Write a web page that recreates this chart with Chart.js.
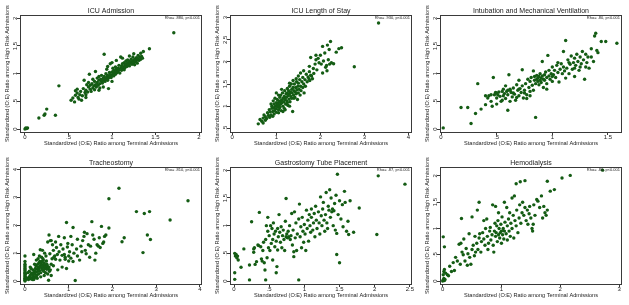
<!DOCTYPE html>
<html>
<head>
<meta charset="utf-8">
<script src="https://cdn.jsdelivr.net/npm/chart.js@4"></script>
<style>
  body { margin: 0; background: #fff; }
  #wrap { position: relative; width: 629px; height: 305px; overflow: hidden; }
  canvas { position: absolute; }
</style>
</head>
<body>
<div id="wrap"></div>
<script>
// ---- data (x = terminal O:E, y = high risk O:E) ----
const icuAdmission = [[0,0],[0.02,0.01],[0.03,0.02],[0.01,0.02],[0.16,0.2],[0.22,0.25],[0.23,0.27],[0.25,0.36],[0.35,0.25],[0.39,0.78],
  [0.53,0.52],[0.55,0.56],[0.57,0.49],[0.58,0.61],[0.58,0.69],[0.6,0.72],[0.6,0.65],[0.61,0.57],[0.62,0.54],[0.63,0.62],[0.64,0.68],[0.65,0.52],
  [0.66,0.6],[0.67,0.73],[0.68,0.88],[0.69,0.66],[0.7,0.7],[0.7,0.62],[0.71,0.8],[0.72,0.67],[0.73,0.76],[0.73,0.84],[0.74,0.99],[0.75,0.72],
  [0.75,0.79],[0.76,0.68],[0.77,0.82],[0.78,0.74],[0.78,0.9],[0.79,0.78],[0.8,0.71],[0.8,0.86],[0.81,1.04],[0.81,0.8],[0.82,0.76],[0.83,0.84],
  [0.83,0.92],[0.84,0.79],[0.85,0.88],[0.85,0.95],[0.86,0.82],[0.86,0.74],[0.87,0.9],[0.88,0.86],[0.88,0.97],[0.89,0.83],[0.9,0.92],[0.9,0.88],
  [0.91,1.35],[0.91,0.95],[0.92,0.86],[0.92,0.91],[0.93,1.0],[0.93,0.9],[0.94,0.94],[0.94,1.08],[0.95,0.88],[0.95,0.97],[0.96,0.73],[0.96,0.92],
  [0.97,1.02],[0.97,0.95],[0.98,1.18],[0.98,0.98],[0.99,0.93],[1.0,1.03],[1.0,0.97],[1.01,1.1],[1.01,1.0],[1.02,0.96],[1.02,1.06],[1.03,1.02],
  [1.04,1.12],[1.04,0.99],[1.05,1.05],[1.05,1.08],[1.06,1.02],[1.07,1.1],[1.07,1.04],[1.08,1.15],[1.08,1.07],[1.09,1.01],[1.1,1.1],[1.1,1.3],
  [1.11,1.06],[1.11,1.14],[1.12,1.18],[1.12,1.09],[1.13,1.12],[1.14,1.2],[1.14,1.07],[1.15,1.15],[1.15,1.11],[1.16,1.23],[1.16,1.17],[1.17,1.13],
  [1.18,1.2],[1.18,1.25],[1.19,1.16],[1.2,1.22],[1.2,1.14],[1.21,1.19],[1.22,1.26],[1.22,1.21],[1.23,1.17],[1.24,1.23],[1.24,1.3],[1.25,1.2],
  [1.26,1.26],[1.26,1.16],[1.27,1.22],[1.28,1.29],[1.28,1.24],[1.29,1.19],[1.3,1.27],[1.3,1.33],[1.31,1.24],[1.32,1.3],[1.33,1.26],[1.33,1.37],
  [1.34,1.31],[1.35,1.28],[1.36,1.4],[1.43,1.45],[1.71,1.74],[1.05,1.24],[1.0,1.2],[0.95,1.13],[1.12,1.28],[1.2,1.32],[1.25,1.36],[0.9,0.76],
  [1.0,0.86],[0.7,0.57],[0.85,0.7]];

const icuLengthOfStay = [[0.59,0.6],[0.63,0.7],[0.67,0.66],[0.7,0.73],[0.72,0.8],[0.75,0.76],[0.78,0.72],[0.8,0.85],[0.82,0.79],[0.84,0.92],
  [0.86,0.87],[0.88,0.8],[0.9,0.95],[0.9,1.0],[0.92,0.88],[0.93,1.12],[0.94,0.96],[0.95,1.05],[0.96,0.9],[0.97,1.18],[0.98,1.0],[0.99,0.94],
  [1.0,1.08],[1.0,0.86],[1.01,1.02],[1.02,1.15],[1.03,0.98],[1.04,1.07],[1.05,0.92],[1.06,1.12],[1.07,1.03],[1.08,1.2],[1.08,0.97],[1.09,1.1],
  [1.1,1.05],[1.1,1.25],[1.11,0.9],[1.12,1.14],[1.13,1.08],[1.14,1.3],[1.15,1.0],[1.16,1.18],[1.17,1.1],[1.18,1.22],[1.18,0.95],[1.19,1.35],
  [1.2,1.15],[1.21,1.05],[1.22,1.28],[1.23,1.2],[1.24,1.12],[1.25,1.4],[1.25,1.3],[1.26,1.02],[1.27,1.24],[1.28,1.35],[1.29,1.16],[1.3,1.45],
  [1.3,1.28],[1.31,1.1],[1.32,1.32],[1.33,1.22],[1.34,1.5],[1.35,1.38],[1.35,1.18],[1.36,1.3],[1.37,0.88],[1.38,1.42],[1.39,1.25],[1.4,1.35],
  [1.41,1.5],[1.42,1.2],[1.43,1.32],[1.44,1.42],[1.45,1.28],[1.46,1.55],[1.47,1.37],[1.48,1.15],[1.49,1.45],[1.5,1.3],[1.5,1.52],[1.52,1.38],
  [1.53,1.6],[1.54,1.25],[1.55,1.45],[1.56,1.35],[1.58,1.55],[1.6,1.42],[1.6,1.65],[1.62,1.5],[1.63,1.3],[1.65,1.6],[1.66,1.45],[1.68,1.72],
  [1.7,1.55],[1.72,1.66],[1.74,1.62],[1.75,1.78],[1.76,1.58],[1.78,1.7],[1.8,1.68],[1.82,1.62],[1.84,1.85],[1.85,1.74],[1.88,1.95],[1.9,2.05],
  [1.92,1.82],[1.95,2.08],[1.97,1.98],[2.0,2.15],[2.02,1.95],[2.05,2.35],[2.07,2.02],[2.1,2.2],[2.12,1.88],[2.14,1.92],[2.15,1.8],[2.16,2.38],
  [2.18,2.05],[2.2,2.28],[2.21,1.95],[2.23,2.46],[2.25,1.98],[2.3,1.96],[2.36,2.22],[2.42,2.3],[2.48,2.32],[2.77,1.89],[3.32,2.88],
  [0.7,0.62],[0.75,0.68],[0.85,0.75],[0.95,0.82],[1.05,0.85],[1.15,0.88],[1.2,0.92],[1.3,1.0],[1.0,1.3],[1.05,1.25],[1.12,1.38],[1.3,1.52],
  [1.38,1.58],[1.45,1.62],[1.55,1.75],[1.62,1.8],[1.75,1.9],[1.78,2.1],[1.9,2.15],[2.05,1.75],[1.5,1.68],[1.4,1.18],[1.25,1.08],[0.88,1.05],[0.92,0.77]];

const intubation = [[0.02,0.02],[0.18,0.39],[0.24,0.39],[0.27,0.1],[0.31,0.28],[0.33,0.82],[0.36,0.36],[0.4,0.44],[0.42,0.56],[0.43,0.6],
  [0.45,0.5],[0.46,0.41],[0.47,0.93],[0.48,0.62],[0.49,0.66],[0.5,0.45],[0.5,0.56],[0.51,0.62],[0.52,0.67],[0.53,0.59],[0.54,0.5],[0.55,0.68],
  [0.56,0.72],[0.56,0.6],[0.57,0.64],[0.58,0.55],[0.58,0.78],[0.59,0.68],[0.6,0.34],[0.6,0.62],[0.61,0.98],[0.62,0.72],[0.62,0.5],[0.63,0.66],
  [0.64,0.58],[0.65,0.74],[0.66,0.63],[0.67,0.52],[0.68,0.8],[0.69,0.7],[0.7,0.6],[0.7,0.88],[0.71,0.73],[0.72,0.66],[0.73,0.78],[0.73,1.07],
  [0.74,0.56],[0.75,0.7],[0.76,0.82],[0.77,0.62],[0.78,0.9],[0.79,0.75],[0.8,0.68],[0.8,0.86],[0.81,0.93],[0.82,0.79],[0.83,1.05],[0.83,0.7],
  [0.84,0.88],[0.84,0.95],[0.85,0.21],[0.85,0.82],[0.86,0.9],[0.86,0.97],[0.87,0.86],[0.87,0.92],[0.88,0.8],[0.88,0.95],[0.89,0.88],[0.89,1.0],
  [0.9,0.92],[0.9,0.84],[0.91,0.96],[0.91,1.22],[0.92,0.9],[0.92,0.75],[0.93,0.98],[0.93,0.88],[0.94,1.03],[0.95,0.93],[0.95,0.82],[0.96,1.33],
  [0.97,0.96],[0.97,1.06],[0.98,0.9],[0.99,1.0],[1.0,1.12],[1.0,0.86],[1.01,0.98],[1.02,1.06],[1.03,0.93],[1.04,1.15],[1.05,1.02],[1.06,0.85],
  [1.07,1.08],[1.08,1.18],[1.09,1.0],[1.1,1.12],[1.1,1.4],[1.11,1.05],[1.12,1.6],[1.12,0.92],[1.13,1.1],[1.14,1.25],[1.15,1.0],[1.16,1.17],
  [1.17,1.32],[1.18,1.08],[1.19,1.2],[1.2,1.28],[1.2,0.95],[1.21,1.15],[1.22,1.35],[1.23,1.22],[1.24,1.06],[1.25,1.3],[1.26,1.18],[1.27,1.4],
  [1.28,1.25],[1.29,0.9],[1.3,1.12],[1.31,1.2],[1.32,1.3],[1.33,1.1],[1.35,1.45],[1.37,1.22],[1.38,1.68],[1.39,1.73],[1.4,1.42],[1.41,1.38],
  [1.44,1.58],[1.48,1.58],[1.58,1.55],[0.55,0.52],[0.6,0.7],[0.65,0.65],[0.7,0.72],[0.75,0.65],[0.62,0.7],[0.68,0.57],[0.77,0.55],[0.8,0.6],
  [0.5,0.65],[0.45,0.62],[0.4,0.6],[0.95,0.72],[1.0,0.95],[1.05,1.2],[1.15,1.2],[1.2,1.1],[1.25,1.12],[1.3,1.35],[1.35,1.3]];

const tracheostomy = [[0,0],[0,0.03],[0,0.07],[0,0.1],[0,0.14],[0,0.18],[0,0.22],[0,0.27],[0,0.31],[0,0.36],[0,0.4],[0,0.45],[0,0.5],
  [0,0.55],[0,0.6],[0,0.7],[0,0.9],[0.01,0.05],[0.01,0.25],[0.02,0.12],[0.1,0.15],[0.12,0.2],[0.13,0.08],[0.15,0.28],[0.16,0.12],[0.17,0.05],
  [0.18,0.22],[0.18,0.4],[0.19,0.18],[0.2,0.3],[0.21,0.1],[0.22,0.35],[0.23,0.25],[0.24,0.45],[0.24,0.15],[0.25,0.55],[0.26,0.32],[0.27,0.2],
  [0.28,0.42],[0.29,0.6],[0.3,0.35],[0.3,0.5],[0.31,0.25],[0.32,0.65],[0.32,0.45],[0.33,0.38],[0.34,0.7],[0.35,0.55],[0.35,1.12],[0.36,0.3],
  [0.37,0.62],[0.38,0.48],[0.39,0.7],[0.4,0.4],[0.4,0.58],[0.41,0.8],[0.42,0.52],[0.43,0.35],[0.44,0.65],[0.45,0.45],[0.45,1.0],[0.46,0.58],
  [0.47,0.3],[0.48,0.5],[0.49,0.72],[0.5,0.42],[0.5,0.6],[0.51,0.55],[0.52,1.4],[0.53,0.45],[0.54,0.03],[0.55,0.5],[0.55,1.65],[0.56,0.35],
  [0.57,0.98],[0.58,1.45],[0.6,0.6],[0.6,0.2],[0.62,0.8],[0.63,1.3],[0.65,1.1],[0.66,0.85],[0.68,0.9],[0.7,0.78],[0.72,1.2],[0.74,0.95],
  [0.75,0.4],[0.77,1.6],[0.78,1.05],[0.8,0.75],[0.82,1.3],[0.85,0.92],[0.87,1.15],[0.9,0.95],[0.92,0.85],[0.95,2.1],[0.95,0.45],[0.97,1.22],
  [0.98,1.35],[1.0,0.72],[1.0,0.9],[1.02,1.05],[1.05,0.82],[1.08,1.3],[1.1,1.92],[1.12,1.0],[1.15,0.02],[1.18,1.15],[1.2,0.9],[1.25,0.75],
  [1.28,1.25],[1.3,1.05],[1.32,1.45],[1.35,1.6],[1.36,1.75],[1.38,1.1],[1.4,0.98],[1.45,1.3],[1.5,1.25],[1.53,2.13],[1.55,1.65],[1.58,1.5],
  [1.6,0.75],[1.62,1.0],[1.65,1.3],[1.68,1.25],[1.72,1.2],[1.75,1.96],[1.78,1.35],[1.82,1.6],[1.85,1.65],[1.92,1.9],[1.92,2.95],[2.15,3.33],
  [2.22,1.41],[2.27,1.55],[2.55,2.49],[2.7,1.02],[2.73,2.42],[2.8,1.65],[2.85,2.49],[2.87,1.49],[3.32,2.19],[3.73,2.88],
  [0.05,0.1],[0.08,0.05],[0.1,0.35],[0.14,0.45],[0.2,0.05],[0.22,0.6],[0.26,0.75],[0.28,0.1],[0.3,0.8],[0.33,0.9],[0.36,0.15],[0.38,0.85],
  [0.42,0.75],[0.44,0.2],[0.48,0.9],[0.52,0.25],[0.58,0.4],[0.12,0.5],[0.07,0.3],[0.2,0.95],[0.4,1.1],[0.65,0.55],[0.7,1.4],[0.6,1.45],
  [0.85,0.5],[0.9,1.55],[0.92,0.78],[1.05,1.6],[1.1,0.7],[1.2,1.5],[1.42,1.7],[1.48,0.85],[1.7,1.55],[1.8,1.4]];

const gastrostomy = [[0.01,0.03],[0.01,0.15],[0.01,0.5],[0.02,0.45],[0.03,0.48],[0.04,0.42],[0.05,0.45],[0.06,0.38],[0.1,0.25],[0.14,0.58],
  [0.22,0.02],[0.22,0.29],[0.25,1.07],[0.28,0.52],[0.28,0.58],[0.29,0.6],[0.3,0.3],[0.32,0.35],[0.34,0.65],[0.35,0.64],[0.36,1.24],[0.38,0.62],
  [0.39,0.4],[0.4,0.36],[0.41,0.55],[0.42,0.7],[0.43,0.33],[0.44,0.2],[0.45,0.02],[0.45,0.75],[0.46,1.0],[0.47,0.42],[0.48,0.9],[0.48,1.15],
  [0.49,0.6],[0.5,0.82],[0.51,0.55],[0.52,1.0],[0.53,0.68],[0.54,0.95],[0.55,0.75],[0.55,0.38],[0.56,1.05],[0.57,0.85],[0.58,0.62],[0.59,0.9],
  [0.6,0.15],[0.6,0.72],[0.61,0.26],[0.62,0.95],[0.62,0.56],[0.63,0.8],[0.64,1.2],[0.65,0.88],[0.66,0.7],[0.67,0.98],[0.68,0.6],[0.69,0.82],
  [0.7,0.92],[0.71,0.75],[0.72,0.55],[0.73,1.08],[0.74,1.49],[0.74,0.8],[0.75,0.85],[0.76,0.78],[0.77,0.9],[0.78,0.8],[0.79,1.0],[0.8,0.75],
  [0.81,0.82],[0.82,1.22],[0.83,0.65],[0.84,0.92],[0.85,0.53],[0.85,0.44],[0.86,1.25],[0.87,0.78],[0.88,1.05],[0.89,0.55],[0.9,0.85],[0.92,0.02],
  [0.92,1.12],[0.93,1.39],[0.94,0.8],[0.95,0.98],[0.96,0.6],[0.97,1.15],[0.98,0.9],[0.99,0.7],[1.0,1.02],[1.01,0.85],[1.02,0.55],[1.03,1.28],
  [1.04,0.95],[1.05,1.1],[1.06,0.72],[1.07,1.2],[1.08,1.0],[1.09,0.88],[1.1,1.3],[1.1,1.15],[1.12,0.92],[1.13,1.05],[1.14,1.22],[1.15,0.8],
  [1.16,1.35],[1.17,1.1],[1.18,0.95],[1.2,1.25],[1.21,1.05],[1.22,0.85],[1.23,1.52],[1.24,1.18],[1.25,1.0],[1.26,1.3],[1.27,1.42],[1.28,1.1],
  [1.29,0.9],[1.3,1.2],[1.31,1.6],[1.32,1.05],[1.33,0.95],[1.34,1.35],[1.35,1.28],[1.36,1.65],[1.37,1.15],[1.38,1.5],[1.39,1.25],[1.4,1.3],
  [1.41,1.0],[1.42,1.27],[1.43,1.4],[1.44,0.92],[1.45,1.55],[1.46,0.48],[1.46,0.86],[1.47,1.93],[1.48,1.2],[1.5,0.33],[1.5,1.45],[1.52,1.12],
  [1.54,1.38],[1.55,0.98],[1.57,1.62],[1.58,1.42],[1.6,0.9],[1.62,1.08],[1.63,0.84],[1.65,1.45],[1.7,0.88],[1.78,1.32],[2.03,0.84],[2.05,1.9],
  [2.43,1.75]];

const hemodialysis = [[0,0],[0.01,0.02],[0.02,0.05],[0.03,0.01],[0.04,0.03],[0.01,0.12],[0.02,0.18],[0.03,0.22],[0.05,0.15],[0.01,0.84],
  [0.03,0.65],[0.08,0.12],[0.1,0.1],[0.12,0.28],[0.15,0.18],[0.18,0.35],[0.2,0.2],[0.22,0.45],[0.25,0.38],[0.28,0.7],[0.3,0.32],[0.31,0.72],
  [0.32,1.19],[0.33,0.55],[0.35,0.5],[0.36,0.8],[0.38,0.38],[0.4,0.62],[0.42,0.3],[0.43,0.52],[0.45,0.9],[0.46,0.45],[0.48,0.32],[0.5,1.22],
  [0.5,0.6],[0.52,0.68],[0.54,0.48],[0.55,0.85],[0.56,0.55],[0.58,0.72],[0.59,1.35],[0.6,0.6],[0.62,1.5],[0.62,0.82],[0.63,0.9],[0.65,0.55],
  [0.66,0.75],[0.68,0.92],[0.7,1.15],[0.7,0.8],[0.72,0.68],[0.73,1.0],[0.75,1.18],[0.76,0.85],[0.77,0.6],[0.78,0.72],[0.8,0.95],[0.81,1.02],
  [0.82,0.78],[0.84,0.88],[0.85,1.45],[0.86,0.68],[0.87,0.55],[0.88,0.95],[0.89,1.1],[0.9,0.85],[0.9,1.42],[0.91,0.92],[0.92,1.05],[0.93,0.75],
  [0.94,1.15],[0.95,0.88],[0.95,1.3],[0.96,1.0],[0.97,0.82],[0.98,0.92],[0.99,1.08],[1.0,0.95],[1.0,0.72],[1.01,1.22],[1.02,0.88],[1.03,1.0],
  [1.04,0.8],[1.05,1.5],[1.05,0.95],[1.06,1.12],[1.08,0.9],[1.09,1.4],[1.1,1.05],[1.1,0.78],[1.12,1.18],[1.13,0.95],[1.14,1.3],[1.15,0.85],
  [1.16,1.1],[1.18,1.58],[1.18,1.0],[1.2,1.25],[1.21,0.82],[1.22,1.62],[1.23,1.15],[1.25,1.85],[1.25,1.05],[1.26,1.35],[1.28,0.92],[1.3,1.2],
  [1.31,1.45],[1.32,1.89],[1.33,1.1],[1.35,1.3],[1.36,1.5],[1.38,1.25],[1.4,1.91],[1.4,1.4],[1.42,1.15],[1.44,1.35],[1.45,1.08],[1.47,1.28],
  [1.48,1.42],[1.5,1.2],[1.52,1.0],[1.53,0.95],[1.54,1.08],[1.55,1.45],[1.57,1.25],[1.6,1.55],[1.62,1.52],[1.65,1.4],[1.68,1.62],[1.7,1.2],
  [1.72,1.42],[1.74,1.3],[1.76,1.25],[1.78,1.9],[1.78,1.35],[1.83,1.71],[1.9,1.74],[2.03,1.96],[2.17,2.01],[2.72,2.11]];

const panelTitles = ['ICU Admission', 'ICU Length of Stay', 'Intubation and Mechanical Ventilation',
  'Tracheostomy', 'Gastrostomy Tube Placement', 'Hemodialysis'];
const rhoNotes = ['Rho= .880, p<0.001', 'Rho= .930, p<0.001', 'Rho= .80, p<0.001',
  'Rho= .810, p<0.001', 'Rho= .87, p<0.001', 'Rho= .86, p<0.001'];
// axis ranges [min, max, step] per panel
const xRanges = [[-0.057, 2.034, 0.5], [-0.052, 4.08, 1], [-0.009, 1.626, 0.5],
  [-0.114, 4.05, 1], [-0.057, 2.53, 0.5], [-0.045, 3.05, 1]];
const yRanges = [[-0.054, 2.06, 0.5], [0.416, 3.06, 0.5], [-0.054, 2.06, 0.5],
  [-0.107, 4.09, 1], [-0.054, 2.06, 0.5], [-0.057, 2.17, 0.5]];
const xTitle = 'Standardized (O:E) Ratio among Terminal Admissions';
const yTitle = 'Standardized (O:E) Ratio among High Risk Admissions';

const panelData = [icuAdmission, icuLengthOfStay, intubation, tracheostomy, gastrostomy, hemodialysis];

const fmt = v => String(+v.toFixed(2)).replace(/^0\./, '.');
const FONT = '"Liberation Sans", Arial, sans-serif';

const stataText = {
  id: 'stataText',
  afterDraw(chart, args, opts) {
    const { ctx, chartArea: a, scales: { x, y } } = chart;
    ctx.save();
    ctx.strokeStyle = '#3a3a3a';
    ctx.lineWidth = 1;
    ctx.strokeRect(a.left + 0.5, a.top + 0.5, a.right - a.left - 1, a.bottom - a.top);

    ctx.fillStyle = '#222';
    ctx.textAlign = 'center';
    ctx.textBaseline = 'alphabetic';
    ctx.font = '7px ' + FONT;
    ctx.fillText(opts.title, (a.left + a.right) / 2, a.top - 2);

    ctx.font = '4px ' + FONT;
    ctx.textAlign = 'right';
    ctx.textBaseline = 'middle';
    ctx.fillText(opts.note, a.right - 2, a.top + 3);

    ctx.font = '6px ' + FONT;
    ctx.textAlign = 'center';
    x.ticks.forEach(t => ctx.fillText(fmt(t.value), x.getPixelForValue(t.value), a.bottom + 5.5));
    y.ticks.forEach(t => {
      ctx.save();
      ctx.translate(a.left - 5, y.getPixelForValue(t.value));
      ctx.rotate(-Math.PI / 2);
      ctx.fillText(fmt(t.value), 0, 0);
      ctx.restore();
    });

    ctx.font = '5.6px ' + FONT;
    ctx.fillText(xTitle, (a.left + a.right) / 2, a.bottom + 11.5);
    ctx.save();
    ctx.translate(a.left - 12.5, (a.top + a.bottom) / 2);
    ctx.rotate(-Math.PI / 2);
    ctx.fillText(yTitle, 0, 0);
    ctx.restore();
    ctx.restore();
  }
};

const wrap = document.getElementById('wrap');
panelData.forEach((pts, i) => {
  const cv = document.createElement('canvas');
  cv.width = 210;
  cv.height = 152;
  cv.style.left = (i % 3) * 210 + 'px';
  cv.style.top = Math.floor(i / 3) * 152 + 'px';
  wrap.appendChild(cv);
  const [xmin, xmax, xstep] = xRanges[i];
  const [ymin, ymax, ystep] = yRanges[i];
  new Chart(cv, {
    type: 'scatter',
    data: {
      datasets: [{
        data: pts.map(p => ({ x: p[0], y: p[1] })),
        backgroundColor: '#145c14',
        borderWidth: 0,
        pointRadius: 1.7,
      }],
    },
    plugins: [stataText],
    options: {
      responsive: false,
      animation: false,
      layout: { padding: { top: 15, right: 8, left: 0, bottom: 0 } },
      plugins: {
        legend: { display: false },
        tooltip: { enabled: false },
        stataText: { title: panelTitles[i], note: rhoNotes[i] },
      },
      scales: {
        x: {
          type: 'linear',
          min: xmin, max: xmax,
          afterFit: s => { s.height = 20; },
          border: { display: false },
          grid: { drawOnChartArea: false, drawTicks: true, tickLength: 3, color: '#3a3a3a' },
          ticks: { display: false, stepSize: xstep, includeBounds: false },
        },
        y: {
          type: 'linear',
          min: ymin, max: ymax,
          afterFit: s => { s.width = 20; },
          border: { display: false },
          grid: { drawOnChartArea: false, drawTicks: true, tickLength: 3, color: '#3a3a3a' },
          ticks: { display: false, stepSize: ystep, includeBounds: false },
        },
      },
    },
  });
});
</script>
</body>
</html>
